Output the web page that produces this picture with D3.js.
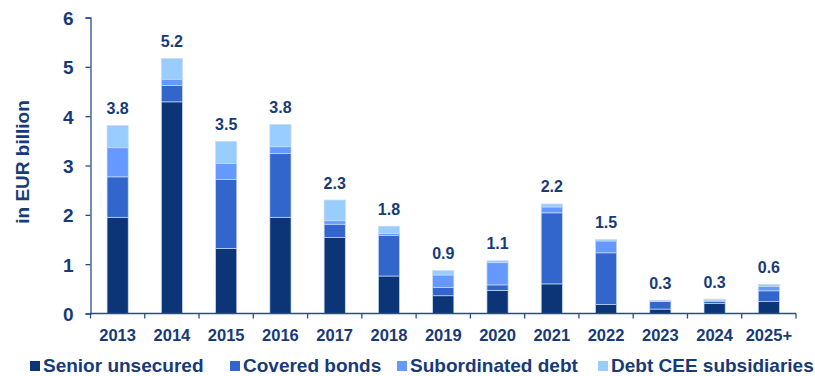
<!DOCTYPE html>
<html>
<head>
<meta charset="utf-8">
<script src="https://cdn.jsdelivr.net/npm/d3@7"></script>
<style>
  html, body { margin: 0; padding: 0; background: #fff; }
  svg { display: block; font-family: "Liberation Sans", Arial, sans-serif; font-weight: bold; }
</style>
</head>
<body>
<svg id="chart" width="815" height="376"></svg>
<script>
// Maturity profile by instrument, EUR billion
const years = ["2013","2014","2015","2016","2017","2018","2019","2020","2021","2022","2023","2024","2025+"];
const seniorUnsecured   = [1.95, 4.29, 1.32, 1.95, 1.54, 0.76, 0.36, 0.47, 0.60, 0.18, 0.09, 0.20, 0.24];
const coveredBonds      = [0.82, 0.33, 1.40, 1.29, 0.27, 0.82, 0.17, 0.11, 1.44, 1.05, 0.15, 0.05, 0.22];
const subordinatedDebt  = [0.59, 0.13, 0.32, 0.14, 0.07, 0.04, 0.25, 0.45, 0.12, 0.24, 0.01, 0.02, 0.09];
const debtCEESubs       = [0.45, 0.42, 0.45, 0.45, 0.42, 0.15, 0.09, 0.04, 0.06, 0.03, 0.02, 0.02, 0.04];
const seriesNames = ["Senior unsecured", "Covered bonds", "Subordinated debt", "Debt CEE subsidiaries"];
const yTicks = [0, 1, 2, 3, 4, 5, 6];

const colors = ["#0b3577", "#3366cc", "#6699ff", "#99ccff"];
const textColor = "#173a78";
const axisColor = "#2b4c8c";

const rows = years.map((yr, i) => ({
  year: yr,
  s0: seniorUnsecured[i], s1: coveredBonds[i], s2: subordinatedDebt[i], s3: debtCEESubs[i]
}));
const keys = ["s0", "s1", "s2", "s3"];
const stacked = d3.stack().keys(keys)(rows);

const svg = d3.select("#chart");
const plotLeft = 90.5, plotRight = 796, plotTop = 17.5, plotBottom = 313.5;

const x = d3.scaleBand().domain(years).range([plotLeft, plotRight]).paddingInner(0.61).paddingOuter(0.305);
const y = d3.scaleLinear().domain([0, 6]).range([plotBottom, plotTop]);

// stacked bars
svg.append("g").selectAll("g")
  .data(stacked).join("g")
  .attr("fill", (d, i) => colors[i])
  .selectAll("rect")
  .data(d => d).join("rect")
  .attr("x", d => x(d.data.year))
  .attr("width", x.bandwidth())
  .attr("y", d => y(d[1]))
  .attr("height", d => Math.max(0, y(d[0]) - y(d[1])))
  .attr("stroke", "#c9daf3")
  .attr("stroke-width", 0.7);

// total labels above bars
const totals = rows.map(r => r.s0 + r.s1 + r.s2 + r.s3);
svg.append("g").selectAll("text")
  .data(rows).join("text")
  .attr("x", d => x(d.year) + x.bandwidth() / 2)
  .attr("y", (d, i) => y(totals[i]) - 11.5)
  .attr("text-anchor", "middle")
  .attr("font-size", 16)
  .attr("fill", textColor)
  .text((d, i) => d3.format(".1f")(totals[i]));

// y axis
const yAxis = svg.append("g")
  .attr("transform", `translate(${plotLeft},0)`)
  .call(d3.axisLeft(y).tickValues(yTicks).tickSize(5).tickPadding(12).tickFormat(d3.format("d")));
yAxis.select(".domain").attr("stroke", axisColor).attr("stroke-width", 1.3);
yAxis.selectAll(".tick line").attr("stroke", axisColor).attr("stroke-width", 1.3);
yAxis.selectAll(".tick text")
  .attr("fill", textColor).attr("font-size", 19).attr("font-family", null).attr("font-weight", "bold")
  .attr("dy", "0.36em");

// x axis with boundary ticks between categories
const xAxisG = svg.append("g").attr("transform", `translate(0,${plotBottom})`);
xAxisG.append("line")
  .attr("x1", plotLeft).attr("x2", plotRight)
  .attr("stroke", axisColor).attr("stroke-width", 1.3);
const step = x.step();
xAxisG.selectAll("line.b")
  .data(d3.range(years.length + 1)).join("line")
  .attr("class", "b")
  .attr("x1", i => plotLeft + i * step).attr("x2", i => plotLeft + i * step)
  .attr("y1", 0).attr("y2", 5)
  .attr("stroke", axisColor).attr("stroke-width", 1.3);
xAxisG.selectAll("text")
  .data(years).join("text")
  .attr("x", d => x(d) + x.bandwidth() / 2)
  .attr("y", 27)
  .attr("text-anchor", "middle")
  .attr("font-size", 16.5)
  .attr("fill", textColor)
  .text(d => d);

// y axis title
svg.append("text")
  .attr("transform", "translate(29,162) rotate(-90)")
  .attr("text-anchor", "middle")
  .attr("font-size", 19)
  .attr("fill", textColor)
  .text("in EUR billion");

// legend
const legendX = [30, 230, 397, 598];
const lg = svg.append("g").selectAll("g")
  .data(seriesNames).join("g")
  .attr("transform", (d, i) => `translate(${legendX[i]},361)`);
lg.append("rect").attr("width", 10).attr("height", 10).attr("fill", (d, i) => colors[i]);
lg.append("text")
  .attr("x", 13).attr("y", 11)
  .attr("font-size", 19)
  .attr("fill", textColor)
  .text(d => d);
</script>
</body>
</html>
